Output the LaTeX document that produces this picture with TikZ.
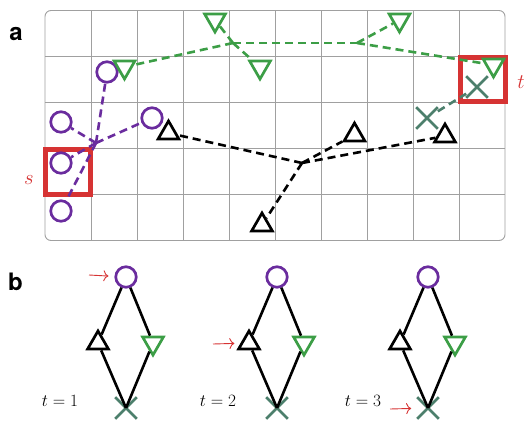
\documentclass[tikz,border=0pt]{standalone}
\usepackage{fontspec}
\setsansfont{TeX Gyre Heros}
\usepackage{tikz}
\usetikzlibrary{arrows.meta,shapes.geometric,shapes.misc}
\definecolor{grape}{HTML}{6A2C9E}
\definecolor{leaf}{HTML}{3C9E46}
\definecolor{slate}{HTML}{4C7F6C}
\definecolor{brick}{HTML}{D63333}
\definecolor{gridgray}{HTML}{A0A0A0}
\tikzset{
  circmark/.style={circle, draw=grape, line width=2.7pt,
    minimum size=20.5pt, inner sep=0pt},
  upmark/.style={regular polygon, regular polygon sides=3, draw=black,
    line width=2.7pt, minimum size=24pt, inner sep=0pt},
  downmark/.style={upmark, draw=leaf, shape border rotate=180},
  crossmark/.style={cross out, draw=slate, line width=2.7pt,
    minimum size=19pt, inner sep=0pt},
  dashlink/.style={dash pattern=on 8pt off 5pt, line width=2.6pt, draw=#1},
  dashlink/.default=black,
  solidlink/.style={line width=2.6pt, draw=black},
  pointer/.style={-{To[length=5pt,width=11pt]}, draw=brick, line width=0.9pt,
    shorten >=6pt},
  panellabel/.style={font=\sffamily\bfseries\fontsize{24}{24}\selectfont},
  endlabel/.style={text=brick, font=\fontsize{22}{22}\selectfont},
  steplabel/.style={font=\fontsize{16}{16}\selectfont},
  regionbox/.style={draw=brick, line width=4.5pt},
}

\begin{document}
\begin{tikzpicture}[x=1pt, y=-1pt]
  \useasboundingbox (0,0) rectangle (524,420);

  % panel a: grid
  \foreach \i in {1,...,9}
    \draw[gridgray, line width=0.9pt] (45+46*\i,10.5) -- (45+46*\i,240.5);
  \foreach \j in {1,...,4}
    \draw[gridgray, line width=0.9pt] (45,10.5+46*\j) -- (505,10.5+46*\j);
  \draw[gridgray, line width=0.9pt, rounded corners=6pt] (45,10.5) rectangle (505,240.5);
  \node[panellabel] (lbla) at (16,34.5) {a};

  % source and target cells
  \draw[regionbox] (45.5,149.5) rectangle (90.5,194.5);
  \draw[regionbox] (460.5,57.5) rectangle (505.5,101.5);
  \node[endlabel] (lbls) at (29,180) {$s$};
  \node[endlabel] (lblt) at (521,82) {$t$};

  % purple circles
  \node[circmark] (pA) at (107,72) {};
  \node[circmark] (pB) at (61,122) {};
  \node[circmark] (pC) at (61,163) {};
  \node[circmark] (pD) at (61,211) {};
  \node[circmark] (pE) at (152,118) {};
  \coordinate (phub) at (96,143);
  \foreach \n in {pA,pB,pC,pD,pE}
    \draw[dashlink=grape] (phub) -- (\n);

  % green triangles
  \node[downmark] (gA) at (215,20) {};
  \node[downmark] (gB) at (124.5,67) {};
  \node[downmark] (gC) at (260,67) {};
  \node[downmark] (gD) at (399.5,20) {};
  \node[downmark] (gE) at (493.5,65) {};
  \coordinate (ghubA) at (233,43);
  \coordinate (ghubB) at (357,43);
  \foreach \n in {gA,gB,gC}
    \draw[dashlink=leaf] (ghubA) -- (\n);
  \draw[dashlink=leaf] (ghubA) -- (ghubB);
  \foreach \n in {gD,gE}
    \draw[dashlink=leaf] (ghubB) -- (\n);

  % black triangles
  \node[upmark] (kA) at (168.5,133) {};
  \node[upmark] (kB) at (262,225) {};
  \node[upmark] (kC) at (354.5,135) {};
  \node[upmark] (kD) at (445,136) {};
  \coordinate (khub) at (302,163);
  \foreach \n in {kA,kB,kC,kD}
    \draw[dashlink] (khub) -- (\n);

  % crosses
  \node[crossmark] (xA) at (427,118) {};
  \node[crossmark] (xB) at (477,87) {};
  \draw[dashlink=slate] (xA) -- (xB);

  % panel b
  \node[panellabel] (lblb) at (15.5,282) {b};
  \foreach \k/\cx in {1/126,2/277,3/428} {
    \node[circmark] (c\k) at (\cx,277) {};
    \node[upmark] (u\k) at (\cx-28,343) {};
    \node[downmark] (d\k) at (\cx+27,343) {};
    \node[crossmark] (x\k) at (\cx,408) {};
    \draw[solidlink] (c\k) -- (u\k);
    \draw[solidlink] (c\k) -- (d\k);
    \draw[solidlink] (u\k) -- (x\k.center);
    \draw[solidlink] (d\k) -- (x\k.center);
  }
  \node[steplabel] (t1) at (60,401) {$t = 1$};
  \node[steplabel] (t2) at (218,401) {$t = 2$};
  \node[steplabel] (t3) at (363,401) {$t = 3$};
  \coordinate (r1) at (89,275);
  \coordinate (r2) at (213,344);
  \coordinate (r3) at (390,409);
  \draw[pointer] (r1) -- (c1);
  \draw[pointer] (r2) -- (u2);
  \draw[pointer] (r3) -- (x3);
\end{tikzpicture}
\end{document}
